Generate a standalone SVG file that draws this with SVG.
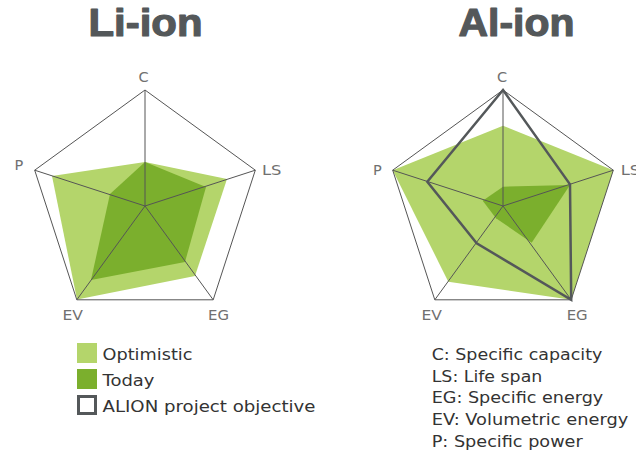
<svg xmlns="http://www.w3.org/2000/svg" width="636" height="454" viewBox="0 0 636 454">
<style>
.title{font-family:"Liberation Sans",Arial,sans-serif;font-weight:bold;font-size:39px;fill:#54585a;stroke:#54585a;stroke-width:1.2;stroke-linejoin:round}
.ax{font-family:"DejaVu Sans","Liberation Sans",sans-serif;font-size:14.5px;fill:#707070}
.opt{fill:#b4d56b}
.today{fill:#7baf2d}
.frame{fill:none;stroke:#555;stroke-width:1;stroke-linejoin:miter}
.spoke{stroke:#555;stroke-width:1}
.obj{fill:none;stroke:#54585a;stroke-width:2.5;stroke-linejoin:miter}
.leg{font-family:"DejaVu Sans","Liberation Sans",sans-serif;font-size:16.5px;fill:#333}
</style>
<rect width="636" height="454" fill="#fff"/>

<g id="li-ion">
  <text class="title" x="88.5" y="36" textLength="114" lengthAdjust="spacingAndGlyphs">Li-ion</text>
  <polygon class="opt" points="145,162 227,179 195,276 77,299.5 52,176"/>
  <polygon class="today" points="145,162 206,187 185,262 91,280 110,194"/>
  <polygon class="frame" points="145,90 255.3,170.2 213.2,299.8 76.8,299.8 34.7,170.2"/>
  <g class="spoke">
    <line x1="145" y1="206" x2="145" y2="90"/>
    <line x1="145" y1="206" x2="255.3" y2="170.2"/>
    <line x1="145" y1="206" x2="213.2" y2="299.8"/>
    <line x1="145" y1="206" x2="76.8" y2="299.8"/>
    <line x1="145" y1="206" x2="34.7" y2="170.2"/>
  </g>
  <text class="ax" x="143.5" y="82" text-anchor="middle">C</text>
  <text class="ax" x="262" y="175" textLength="19.5" lengthAdjust="spacingAndGlyphs">LS</text>
  <text class="ax" x="208" y="320" textLength="21" lengthAdjust="spacingAndGlyphs">EG</text>
  <text class="ax" x="62.5" y="320" textLength="20.5" lengthAdjust="spacingAndGlyphs">EV</text>
  <text class="ax" x="14.5" y="170">P</text>
</g>

<g id="al-ion">
  <text class="title" x="458.5" y="36" textLength="116" lengthAdjust="spacingAndGlyphs">Al-ion</text>
  <polygon class="opt" points="503,125.7 613.3,170.2 571.2,299.8 448.3,281.7 392.7,170.2"/>
  <polygon class="today" points="503,186.7 570,185 531.7,242.7 496,218.3 482.7,200.7"/>
  <polygon class="frame" points="503,90 613.3,170.2 571.2,299.8 434.8,299.8 392.7,170.2"/>
  <g class="spoke">
    <line x1="503" y1="206" x2="503" y2="90"/>
    <line x1="503" y1="206" x2="613.3" y2="170.2"/>
    <line x1="503" y1="206" x2="571.2" y2="299.8"/>
    <line x1="503" y1="206" x2="434.8" y2="299.8"/>
    <line x1="503" y1="206" x2="392.7" y2="170.2"/>
  </g>
  <polygon class="obj" points="503,90 570,184.3 571.2,299.8 476.7,243.3 427.3,181.7"/>
  <text class="ax" x="502" y="82" text-anchor="middle">C</text>
  <text class="ax" x="620.7" y="175" textLength="19.5" lengthAdjust="spacingAndGlyphs">LS</text>
  <text class="ax" x="566.7" y="320" textLength="21" lengthAdjust="spacingAndGlyphs">EG</text>
  <text class="ax" x="421.5" y="320" textLength="20.5" lengthAdjust="spacingAndGlyphs">EV</text>
  <text class="ax" x="373" y="175">P</text>
</g>

<g id="legend-series">
  <rect class="opt" x="77" y="343" width="20" height="20"/>
  <text class="leg" x="102.5" y="359.5" textLength="90" lengthAdjust="spacingAndGlyphs">Optimistic</text>
  <rect class="today" x="77" y="369" width="20" height="20"/>
  <text class="leg" x="102.5" y="385.5" textLength="52" lengthAdjust="spacingAndGlyphs">Today</text>
  <rect x="78.5" y="396.5" width="17" height="17" fill="#fff" stroke="#54585a" stroke-width="3"/>
  <text class="leg" x="102.5" y="412" textLength="213" lengthAdjust="spacingAndGlyphs">ALION project objective</text>
</g>

<g id="legend-axes">
  <text class="leg" x="431.7" y="360" textLength="170.6" lengthAdjust="spacingAndGlyphs">C: Specific capacity</text>
  <text class="leg" x="431.7" y="381.7" textLength="110.6" lengthAdjust="spacingAndGlyphs">LS: Life span</text>
  <text class="leg" x="431.7" y="403.3" textLength="171.6" lengthAdjust="spacingAndGlyphs">EG: Specific energy</text>
  <text class="leg" x="431.7" y="425" textLength="196.6" lengthAdjust="spacingAndGlyphs">EV: Volumetric energy</text>
  <text class="leg" x="431.7" y="447.3" textLength="151" lengthAdjust="spacingAndGlyphs">P: Specific power</text>
</g>
</svg>
